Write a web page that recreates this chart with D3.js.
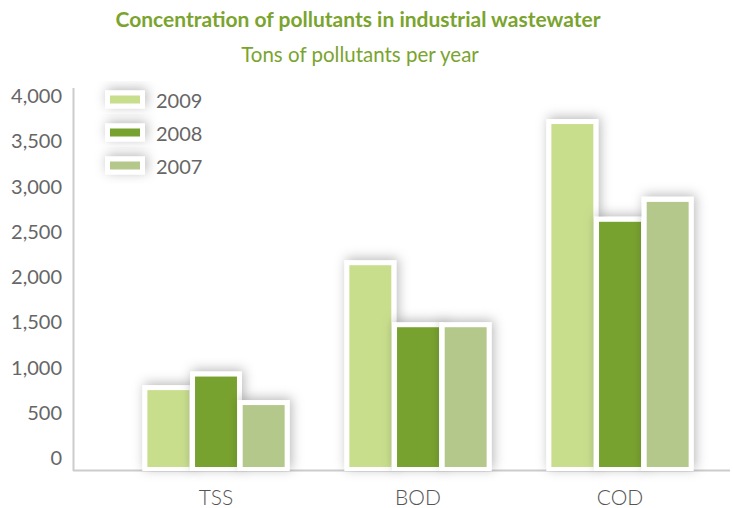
<!DOCTYPE html>
<html>
<head>
<meta charset="utf-8">
<script src="https://cdn.jsdelivr.net/npm/d3@7/dist/d3.min.js"></script>
<style>
  body { margin: 0; background: #fff; }
  text { font-family: Lato, "Open Sans", sans-serif; }
</style>
</head>
<body>
<svg width="733" height="508"></svg>
<script>
var categories = ["TSS", "BOD", "COD"];
var years = ["2009", "2008", "2007"];
var v2009 = [750, 2130, 3690];
var v2008 = [900, 1445, 2610];
var v2007 = [585, 1445, 2830];
var yTicks = [0, 500, 1000, 1500, 2000, 2500, 3000, 3500, 4000];
var colors = ["#c9de8d", "#78a22f", "#b5c88b"];

var series = [v2009, v2008, v2007];
var data = [];
categories.forEach(function (c, i) {
    years.forEach(function (yr, j) {
        data.push({ cat: c, year: yr, value: series[j][i] });
    });
});

var svg = d3.select("svg");

var defs = svg.append("defs");
defs.append("filter")
    .attr("id", "shadow")
    .attr("x", "-50%").attr("y", "-50%")
    .attr("width", "200%").attr("height", "200%")
    .append("feDropShadow")
    .attr("dx", 2).attr("dy", -2)
    .attr("stdDeviation", 6)
    .attr("flood-color", "#000")
    .attr("flood-opacity", 0.28);

// titles
svg.append("text")
    .attr("x", 358).attr("y", 27)
    .attr("text-anchor", "middle")
    .attr("font-size", "21px")
    .attr("font-weight", "bold")
    .attr("fill", "#7aa42e")
    .text("Concentration of pollutants in industrial wastewater");

svg.append("text")
    .attr("x", 360).attr("y", 62)
    .attr("text-anchor", "middle")
    .attr("font-size", "20.5px")
    .attr("fill", "#7aa42e")
    .text("Tons of pollutants per year");

var yScale = d3.scaleLinear().domain([0, 4000]).range([458, 96]);
var xScale = d3.scalePoint().domain(categories).range([115, 721]).padding(0.5);
var xInner = d3.scaleBand().domain(years).range([0, 143])
    .paddingInner(0.12).paddingOuter(0.06);
var groupWidth = 143;
var baseDrop = 9; // bars run a bit below the zero label

// axis lines
svg.append("line")
    .attr("x1", 73.5).attr("x2", 73.5)
    .attr("y1", 88).attr("y2", 471)
    .attr("stroke", "#cccccc").attr("stroke-width", 2);
svg.append("line")
    .attr("x1", 73).attr("x2", 730)
    .attr("y1", 470.5).attr("y2", 470.5)
    .attr("stroke", "#cccccc").attr("stroke-width", 2);

// y tick labels
svg.append("g").selectAll("text")
    .data(yTicks)
    .enter().append("text")
    .attr("x", 62)
    .attr("y", function (d) { return yScale(d); })
    .attr("dy", "0.36em")
    .attr("text-anchor", "end")
    .attr("font-size", "20px")
    .attr("fill", "#666")
    .text(d3.format(","));

// x labels
svg.append("g").selectAll("text")
    .data(categories)
    .enter().append("text")
    .attr("x", function (d) { return xScale(d); })
    .attr("y", 497)
    .attr("dy", "0.36em")
    .attr("text-anchor", "middle")
    .attr("font-size", "21px")
    .attr("font-weight", 300)
    .attr("fill", "#555")
    .text(function (d) { return d; });

// bars
var bars = svg.append("g").selectAll(".bar")
    .data(data)
    .enter().append("g")
    .attr("class", "bar")
    .attr("transform", function (d) {
        return "translate(" + (xScale(d.cat) - groupWidth / 2 + xInner(d.year)) + ",0)";
    });

bars.append("rect")
    .attr("x", -5)
    .attr("y", function (d) { return yScale(d.value) - 5; })
    .attr("width", xInner.bandwidth() + 10)
    .attr("height", function (d) { return yScale(0) + baseDrop - yScale(d.value) + 9; })
    .attr("fill", "#fff")
    .attr("filter", "url(#shadow)");

bars.append("rect")
    .attr("x", 0)
    .attr("y", function (d) { return yScale(d.value); })
    .attr("width", xInner.bandwidth())
    .attr("height", function (d) { return yScale(0) + baseDrop - yScale(d.value); })
    .attr("fill", function (d) { return colors[years.indexOf(d.year)]; });

// legend
var legend = svg.append("g").selectAll(".legendItem")
    .data(years)
    .enter().append("g")
    .attr("class", "legendItem")
    .attr("transform", function (d, i) { return "translate(105," + (99.5 + 33 * i) + ")"; });

legend.append("rect")
    .attr("x", 0).attr("y", -9)
    .attr("width", 40).attr("height", 18)
    .attr("fill", "#fff")
    .attr("filter", "url(#shadow)");

legend.append("rect")
    .attr("x", 5).attr("y", -4)
    .attr("width", 30).attr("height", 8)
    .attr("fill", function (d, i) { return colors[i]; });

legend.append("text")
    .attr("x", 51).attr("y", 1.5)
    .attr("dy", "0.36em")
    .attr("font-size", "20px")
    .attr("fill", "#666")
    .text(function (d) { return d; });
</script>
</body>
</html>
